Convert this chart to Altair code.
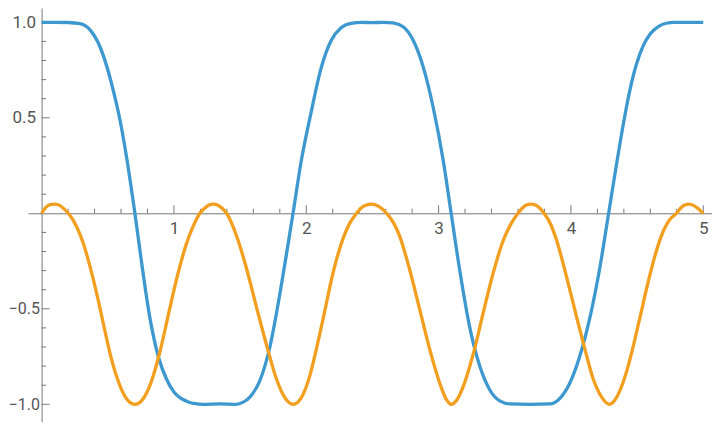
import altair as alt
import pandas as pd

# ---- data ----
blue_x = [0.0, 0.10, 0.20, 0.29, 0.366, 0.441, 0.517, 0.555, 0.592, 0.643, 0.705, 0.756, 0.819, 0.882,
          0.945, 1.00, 1.05, 1.10, 1.16, 1.22, 1.35, 1.47, 1.52, 1.574, 1.650, 1.725, 1.801, 1.85,
          1.900, 1.961, 2.037, 2.112, 2.188, 2.263, 2.339, 2.42, 2.50, 2.58, 2.656, 2.732, 2.807,
          2.883, 2.958, 3.034, 3.095, 3.160, 3.236, 3.311, 3.387, 3.462, 3.538, 3.69, 3.84,
          3.915, 3.991, 4.066, 4.142, 4.217, 4.285, 4.343, 4.394, 4.444, 4.495, 4.545, 4.60,
          4.66, 4.72, 4.78, 4.90, 5.0]
blue_y = [1.0, 1.0, 0.999, 0.993, 0.96, 0.872, 0.71, 0.605, 0.49, 0.29, 0.0, -0.26, -0.55, -0.75,
          -0.87, -0.935, -0.968, -0.985, -0.997, -1.0, -0.998, -1.0, -0.99, -0.962, -0.875, -0.70, -0.42, -0.215,
          0.0, 0.27, 0.53, 0.76, 0.905, 0.972, 0.995, 1.0, 0.998, 1.0, 0.997, 0.977, 0.907,
          0.768, 0.558, 0.28, 0.0, -0.30, -0.60, -0.80, -0.925, -0.982, -0.998, -1.0, -0.998,
          -0.97, -0.89, -0.75, -0.55, -0.29, 0.0, 0.25, 0.46, 0.64, 0.78, 0.875, 0.94,
          0.978, 0.995, 1.0, 1.0, 1.0]

orange_x = [0.0, 0.03, 0.065, 0.101, 0.14, 0.172, 0.202, 0.265, 0.315, 0.366, 0.416, 0.466, 0.517,
            0.567, 0.617, 0.668, 0.705, 0.743, 0.794, 0.844, 0.894, 0.944, 0.994, 1.044, 1.094,
            1.144, 1.196, 1.23, 1.262, 1.297, 1.333, 1.366, 1.398, 1.474, 1.549, 1.625, 1.700,
            1.776, 1.838, 1.901, 1.963, 2.027, 2.08, 2.128, 2.203, 2.279, 2.33, 2.380, 2.41, 2.45,
            2.493, 2.53, 2.57, 2.607, 2.66, 2.707, 2.782, 2.858, 2.934, 3.009, 3.055, 3.097, 3.14,
            3.19, 3.24, 3.273, 3.336, 3.412, 3.487, 3.545, 3.60, 3.63, 3.66, 3.697, 3.735, 3.767,
            3.797, 3.845, 3.891, 3.966, 4.042, 4.104, 4.167, 4.23, 4.29, 4.33, 4.366, 4.42, 4.466,
            4.52, 4.58, 4.64, 4.70, 4.75, 4.797, 4.83, 4.86, 4.89, 4.93, 4.965, 5.0]
orange_y = [0.0, 0.03, 0.045, 0.048, 0.04, 0.022, 0.0, -0.07, -0.157, -0.279, -0.419, -0.576, -0.733,
            -0.855, -0.942, -0.99, -1.0, -0.99, -0.94, -0.85, -0.725, -0.575, -0.42, -0.28, -0.16,
            -0.07, 0.0, 0.025, 0.042, 0.048, 0.042, 0.025, 0.0, -0.12, -0.29, -0.495, -0.69,
            -0.87, -0.965, -1.0, -0.965, -0.85, -0.70, -0.55, -0.31, -0.13, -0.05, 0.0, 0.025, 0.042,
            0.048, 0.042, 0.025, 0.0, -0.05, -0.122, -0.297, -0.506, -0.715, -0.89, -0.97, -1.0, -0.975,
            -0.90, -0.79, -0.707, -0.524, -0.314, -0.145, -0.058, 0.0, 0.025, 0.042, 0.048, 0.042, 0.025,
            0.0, -0.055, -0.14, -0.33, -0.541, -0.707, -0.865, -0.96, -1.0, -0.98, -0.935, -0.83, -0.71,
            -0.55, -0.37, -0.21, -0.09, -0.03, 0.0, 0.028, 0.043, 0.048, 0.04, 0.022, 0.0]

x_labels = [1, 2, 3, 4, 5]
y_labels = [-1.0, -0.5, 0.5, 1.0]
x_minor = [0.2, 0.4, 0.6, 0.8, 1.2, 1.4, 1.6, 1.8, 2.2, 2.4, 2.6, 2.8, 3.2, 3.4, 3.6, 3.8,
           4.2, 4.4, 4.6, 4.8]
y_minor = [-0.9, -0.8, -0.7, -0.6, -0.4, -0.3, -0.2, -0.1, 0.1, 0.2, 0.3, 0.4, 0.6, 0.7, 0.8, 0.9]

BLUE = "#3d98d0"
ORANGE = "#f29e1f"
AXC = "#777777"
TXT = "#555555"

W, H = 684, 414
X_DOM = [-0.1028, 5.066]
Y_DOM = [-1.0927, 1.0749]

xs = alt.Scale(domain=X_DOM, nice=False, zero=False)
ys = alt.Scale(domain=Y_DOM, nice=False, zero=False)

# axis positions: x axis at y=0, y axis at x=0
x_off = -(H * (0 - Y_DOM[0]) / (Y_DOM[1] - Y_DOM[0]))
y_off = -(W * (0 - X_DOM[0]) / (X_DOM[1] - X_DOM[0]))

x_axis = alt.Axis(values=x_labels, format="d", title=None, grid=False, ticks=False,
                  domainColor=AXC, domainWidth=1, labelFont="Roboto", labelFontSize=17,
                  labelColor=TXT, labelPadding=7, offset=x_off, labelFlush=False)
y_axis = alt.Axis(values=y_labels, format=".1f", title=None, grid=False, ticks=False,
                  domainColor=AXC, domainWidth=1, labelFont="Roboto",
                  labelFontSize={"condition": {"test": "datum.value < 0", "value": 16}, "value": 17},
                  labelPadding={"condition": {"test": "datum.value < 0", "value": 2.2}, "value": 6},
                  labelExpr="replace(datum.label, '-', '\u2212')",
                  labelColor=TXT, offset=y_off, labelFlush=False)

blue_df = pd.DataFrame({"x": blue_x, "y": blue_y})
orange_df = pd.DataFrame({"x": orange_x, "y": orange_y})
xmaj_df = pd.DataFrame({"x": x_labels, "y": [0] * len(x_labels)})
xmin_df = pd.DataFrame({"x": x_minor, "y": [0] * len(x_minor)})
ymaj_df = pd.DataFrame({"x": [0] * len(y_labels), "y": y_labels})
ymin_df = pd.DataFrame({"x": [0] * len(y_minor), "y": y_minor})


def enc(ch):
    return ch.encode(
        x=alt.X("x:Q", scale=xs, axis=x_axis),
        y=alt.Y("y:Q", scale=ys, axis=y_axis),
    )


xmaj = enc(alt.Chart(xmaj_df).mark_tick(orient="vertical", size=8, thickness=1, yOffset=-4, color=AXC, opacity=1))
xmin = enc(alt.Chart(xmin_df).mark_tick(orient="vertical", size=4.5, thickness=1, yOffset=-2.25, color=AXC, opacity=1))
ymaj = enc(alt.Chart(ymaj_df).mark_tick(orient="horizontal", size=8, thickness=1, xOffset=4, color=AXC, opacity=1))
ymin = enc(alt.Chart(ymin_df).mark_tick(orient="horizontal", size=4.5, thickness=1, xOffset=2.25, color=AXC, opacity=1))

blue = enc(alt.Chart(blue_df).mark_line(color=BLUE, strokeWidth=3.3, interpolate="monotone"))
orange = enc(alt.Chart(orange_df).mark_line(color=ORANGE, strokeWidth=3.3, interpolate="monotone"))

chart = alt.layer(xmaj, xmin, ymaj, ymin, blue, orange).properties(
    width=W, height=H,
    autosize=alt.AutoSizeParams(type="none"),
    padding={"left": 20, "top": 0, "right": 0, "bottom": 0},
).configure_view(stroke=None)

chart.save("out.html", embed_options={"renderer": "svg", "actions": False})
